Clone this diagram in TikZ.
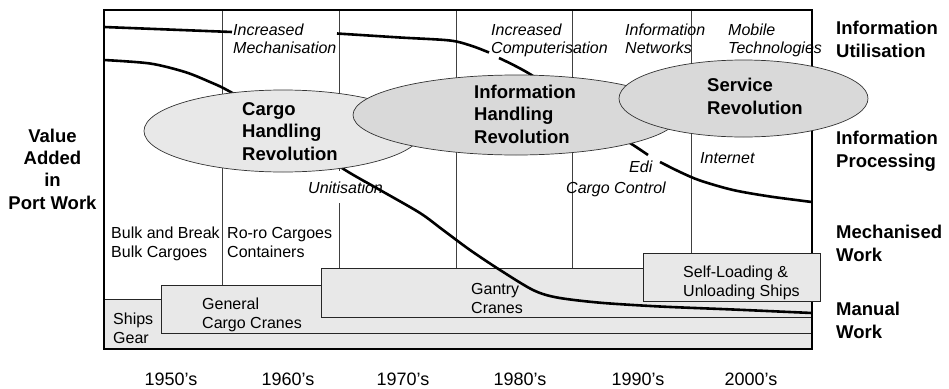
\documentclass[tikz,border=0pt]{standalone}
\usepackage{fontspec}
\setmainfont{Liberation Sans}
\definecolor{boxgray}{gray}{0.91}
\definecolor{lightell}{gray}{0.91}
\definecolor{darkell}{gray}{0.85}
\begin{document}
\begin{tikzpicture}[x=1pt,y=-1pt,
  plain/.style={font=\fontsize{16}{18.5}\selectfont,align=left,anchor=base west,inner sep=0pt},
  slanted/.style={plain,font=\fontsize{16}{18.5}\selectfont\itshape},
  heavy/.style={font=\fontsize{18.5}{22.3}\selectfont\bfseries,align=left,anchor=base west,inner sep=0pt},
  decade/.style={font=\fontsize{18}{20}\selectfont,anchor=base,inner sep=0pt},
  layer/.style={fill=boxgray,draw=black!85,line width=0.9pt},
  divider/.style={draw=black!75,line width=0.9pt},
  revol/.style={draw=black!80,line width=0.7pt},
  trend/.style={line width=2.6pt,line join=round}]
\useasboundingbox (0,0) rectangle (949,388);
% equipment layers
\draw[layer] (104,299) rectangle (812,349);
\draw[layer] (161,285) rectangle (812,333);
\draw[layer] (321,268) rectangle (812,317);
% decade dividers
\draw[divider] (222.5,10) -- (222.5,285);
\draw[divider] (339,10) -- (339,171);
\draw[divider] (339,203) -- (339,268);
\draw[divider] (456,10) -- (456,268);
\draw[divider] (572,10) -- (572,268);
\draw[divider] (691.5,10) -- (691.5,253);
\draw[line width=2.2pt] (104,10) rectangle (812,349);
% information curve
\draw[trend] plot[smooth] coordinates {(104,27) (168,29.5) (232,32)};
\draw[trend] plot[smooth] coordinates {(337,33.5) (400,37.5) (450,40.5) (472,46) (489,52.5)};
\draw[trend] plot[smooth] coordinates {(499,58) (533,76) (585,115) (630,143) (648,155)};
\draw[trend] plot[smooth] coordinates {(660,162) (680,172) (700,180.5) (733,190) (770,196.5) (812,202)};
% work curve
\draw[trend] plot[smooth] coordinates {(104,60) (150,63.5) (185,72) (210,82) (227,90) (265,112) (305,140) (342,168) (380,190) (420,213) (443,230) (470,250) (500,270) (533,290) (557,297.5) (600,302.7) (660,306.5) (733,309.5) (812,313)};
\draw[layer] (643,253) rectangle (820,301);
% revolutions (base anchor sits on the last line)
\draw[revol,fill=lightell] (283,131) ellipse [x radius=139,y radius=41];
\draw[revol,fill=darkell] (516,115) ellipse [x radius=163,y radius=40];
\draw[revol,fill=darkell] (743.5,98.5) ellipse [x radius=124.5,y radius=38.5];
\node[heavy] (cargotxt) at (242,160) {Cargo\\Handling\\Revolution};
\node[heavy] (infotxt) at (474,143) {Information\\Handling\\Revolution};
\node[heavy] (servtxt) at (707,114) {Service\\Revolution};
% technology labels
\node[slanted] (mech) at (233,53.5) {Increased\\Mechanisation};
\node[slanted] (comp) at (491,53.5) {Increased\\Computerisation};
\node[slanted] (netw) at (625,53.5) {Information\\Networks};
\node[slanted] (mobile) at (728,53.5) {Mobile\\Technologies};
\node[slanted] (unit) at (308,193) {Unitisation};
\node[slanted] (edi) at (629,172) {Edi};
\node[slanted] (cargoctl) at (566,193) {Cargo Control};
\node[slanted] (internet) at (700,163) {Internet};
% cargo and equipment labels
\node[plain] (bulk) at (111,257) {Bulk and Break\\Bulk Cargoes};
\node[plain] (roro) at (227,257) {Ro-ro Cargoes\\Containers};
\node[plain] (general) at (202,328) {General\\Cargo Cranes};
\node[plain] (ships) at (113,343) {Ships\\Gear};
\node[plain] (gantry) at (471,313) {Gantry\\Cranes};
\node[plain] (selfload) at (683,296) {Self-Loading \&\\Unloading Ships};
% axis labels
\node[heavy,align=center,anchor=base] (value) at (52.5,209) {Value\\Added\\in\\Port Work};
\node[heavy] (infoutil) at (836,57) {Information\\Utilisation};
\node[heavy] (infoproc) at (836,167) {Information\\Processing};
\node[heavy] (mechwork) at (836,261) {Mechanised\\Work};
\node[heavy] (manwork) at (836,338) {Manual\\Work};
\node[decade] (d1950) at (171,385) {1950's};
\node[decade] (d1960) at (288,385) {1960's};
\node[decade] (d1970) at (403,385) {1970's};
\node[decade] (d1980) at (520,385) {1980's};
\node[decade] (d1990) at (638,385) {1990's};
\node[decade] (d2000) at (751,385) {2000's};
\end{tikzpicture}
\end{document}
